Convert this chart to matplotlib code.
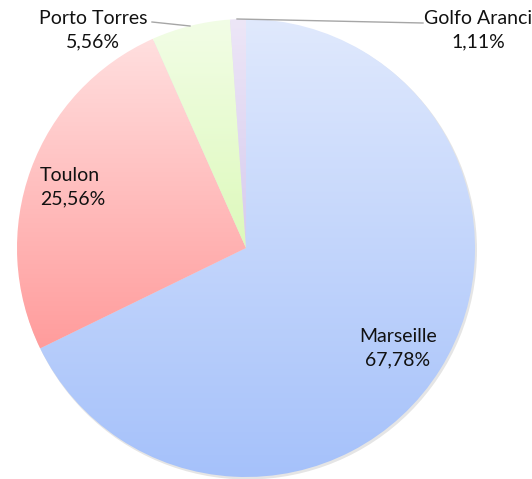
import matplotlib.pyplot as plt
import numpy as np
from matplotlib.colors import LinearSegmentedColormap

plt.rcParams['font.family'] = ['Lato', 'DejaVu Sans']

# data
ports = ["Marseille", "Toulon", "Porto Torres", "Golfo Aranci"]
counts = [61, 23, 5, 1]
top_colors = ["#e0e9fd", "#ffdfdf", "#f2fde6", "#ede6f7"]
bottom_colors = ["#a5c1fa", "#ff9c9c", "#ddf9bb", "#d6cbee"]

fig = plt.figure(figsize=(5.32, 4.79), dpi=100)
ax = fig.add_axes([0, 0, 1, 1])

cx, cy, r = 246, 479 - 248, 229

# faint shadow under the pie
shadow = plt.Circle((cx + 1.5, cy - 2), r + 0.5, color="#000000", alpha=0.10, lw=0)
ax.add_patch(shadow)

wedges, _ = ax.pie(counts, startangle=90, counterclock=False,
                   center=(cx, cy), radius=r,
                   wedgeprops=dict(facecolor="none", linewidth=0))

# fill each slice with a vertical gradient
for w, c0, c1 in zip(wedges, top_colors, bottom_colors):
  path = w.get_path()
  verts = w.get_transform().transform(path.vertices)
  verts = ax.transData.inverted().transform(verts)
  ymin, ymax = verts[:, 1].min(), verts[:, 1].max()
  xmin, xmax = verts[:, 0].min(), verts[:, 0].max()
  cmap = LinearSegmentedColormap.from_list("g", [c1, c0])
  grad = np.linspace(0, 1, 256).reshape(-1, 1)
  im = ax.imshow(grad, cmap=cmap, origin="lower", aspect="auto",
                 extent=(xmin, xmax, ymin, ymax), zorder=2)
  im.set_clip_path(w)

total = sum(counts)
pct = [f"{100 * c / total:.2f}".replace(".", ",") + "%" for c in counts]

fs = 14
ls = 1.45
ax.text(398, 479 - 348, f"{ports[0]}\n{pct[0]}", ha="center", va="center",
        fontsize=fs, linespacing=ls, color="#111111", zorder=5)
ax.text(40, 479 - 187, f"{ports[1]}\n{pct[1]}", ha="left", va="center",
        fontsize=fs, linespacing=ls, color="#111111", zorder=5)
ax.text(93, 479 - 30, f"{ports[2]}\n{pct[2]}", ha="center", va="center",
        fontsize=fs, linespacing=ls, color="#111111", zorder=5)
ax.text(478, 479 - 30, f"{ports[3]}\n{pct[3]}", ha="center", va="center",
        fontsize=fs, linespacing=ls, color="#111111", zorder=5)

# leader lines
ax.plot([152, 190], [479 - 22, 479 - 26], color="#a6a6a6", lw=1, zorder=5)
ax.plot([237, 423], [479 - 19, 479 - 23], color="#a6a6a6", lw=1, zorder=5)

ax.set_xlim(0, 532)
ax.set_ylim(0, 479)
ax.set_aspect("auto")
ax.axis("off")

fig.savefig("out.png", dpi=100)
